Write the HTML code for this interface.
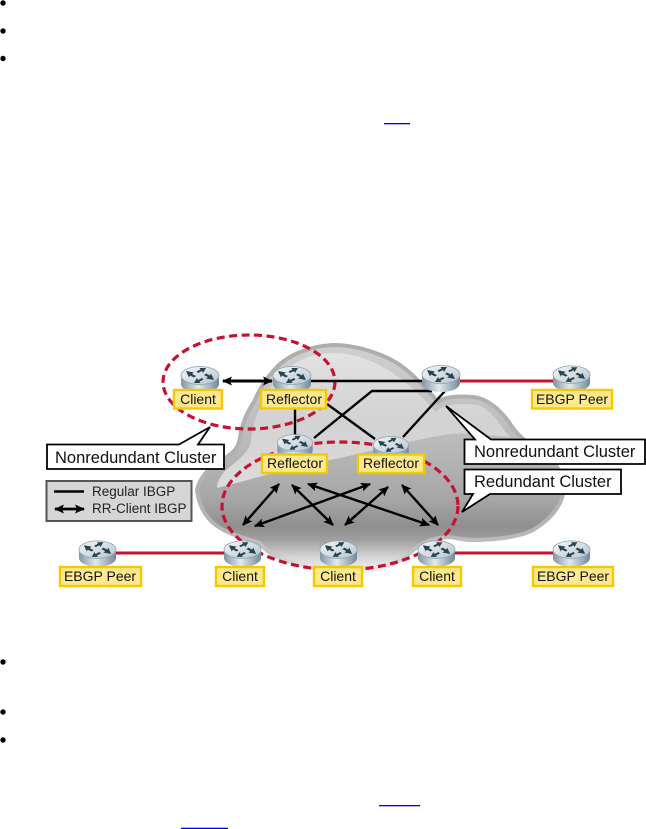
<!DOCTYPE html>
<html><head><meta charset="utf-8"><style>
html,body{margin:0;padding:0;background:#fff}
svg{display:block}
text{font-family:"Liberation Sans",sans-serif;fill:#111}
.n{font-size:14px;text-anchor:middle}
.c{font-size:16.5px}
.l{font-size:13.5px;fill:#222}
</style></head><body>
<svg width="646" height="829" viewBox="0 0 646 829" xmlns="http://www.w3.org/2000/svg">
<defs>
<linearGradient id="cl" x1="0" y1="345" x2="0" y2="572" gradientUnits="userSpaceOnUse">
<stop offset="0" stop-color="#d0d0d0"/><stop offset=".42" stop-color="#bababa"/><stop offset=".68" stop-color="#a6a6a6"/><stop offset=".8" stop-color="#8f8f8f"/><stop offset=".86" stop-color="#a0a0a0"/><stop offset=".93" stop-color="#d2d2d2"/><stop offset="1" stop-color="#f4f4f4"/>
</linearGradient>
<linearGradient id="rim" x1="0" y1="345" x2="0" y2="572" gradientUnits="userSpaceOnUse">
<stop offset="0" stop-color="#adadad"/><stop offset=".8" stop-color="#b4b4b4"/><stop offset=".92" stop-color="#c4c4c4"/><stop offset="1" stop-color="#f0f0f0"/>
</linearGradient>
<linearGradient id="hi" x1="0" y1="355" x2="0" y2="488" gradientUnits="userSpaceOnUse">
<stop offset="0" stop-color="#e2e2e2"/><stop offset=".5" stop-color="#d2d2d2"/><stop offset="1" stop-color="#dcdcdc"/>
</linearGradient>
<linearGradient id="cy" x1="0" x2="1" y1="0" y2="0">
<stop offset="0" stop-color="#7f95a5"/><stop offset=".45" stop-color="#e3e9ec"/><stop offset="1" stop-color="#71899a"/>
</linearGradient>
<linearGradient id="tp" x1="0" x2="1" y1="0" y2="1">
<stop offset="0" stop-color="#f5f7f8"/><stop offset="1" stop-color="#b6c4ce"/>
</linearGradient>
<marker id="a" markerWidth="11" markerHeight="9" refX="9" refY="4.5" orient="auto-start-reverse" markerUnits="userSpaceOnUse"><path d="M0 0L10 4.5L0 9L2 4.500Z" fill="#000"/></marker>
<symbol id="r" width="40" height="28" viewBox="0 0 40 28" overflow="visible">
<path d="M1 9V18C1 23 9 27 20 27S39 23 39 18V9Z" fill="url(#cy)"/>
<ellipse cx="20" cy="9.500" rx="19" ry="9" fill="url(#tp)" stroke="#8ea2af" stroke-width=".8"/>
<g fill="#26434f"><path d="M6 5l8 1.500-2 1.500 4 2-2 1.500-4-2-1 2z"/><path d="M34 14l-8-1.500 2-1.500-4-2 2-1.500 4 2 1-2z"/><path d="M26 2l-3 5-1-2-4 2-1.500-1.500 4-2-1-1.500z"/><path d="M14 17l3-5 1 2 4-2 1.500 1.500-4 2 1 1.500z"/></g>
</symbol>
</defs>

<!-- bullets and links -->
<g fill="#000"><circle cx="3" cy="3" r="2.700"/><circle cx="3" cy="31" r="2.700"/><circle cx="3" cy="58.500" r="2.700"/><circle cx="3" cy="662" r="2.700"/><circle cx="3" cy="712" r="2.700"/><circle cx="3" cy="740" r="2.700"/></g>
<g fill="#0000ee"><rect x="384" y="123" width="26" height="1.300"/><rect x="379" y="805" width="41" height="1.300"/><rect x="181" y="827.700" width="47" height="1.300"/></g>

<!-- cloud -->
<path d="M197 490C200 476 210 467 222 460C232 454 239 448 240 437C242 425 247 412 254 402C258 392 266 378 276 368C288 355 310 346 333 345C355 345 378 352 397 363C411 372 424 386 438 402C445 396 460 396 473 397C487 398 500 410 509 422C515 433 525 442 540 451C554 461 564 472 564 488C563 503 553 518 533 530C520 537 495 540 473 540C460 540 455 537 447 537C430 538 420 544 410 553C402 560 390 568 363 572C345 574 325 574 313 568C295 564 270 558 260 543C245 538 225 534 212 522C204 514 199 505 197 490Z" fill="url(#cl)" stroke="url(#rim)" stroke-width="4"/>
<path d="M217 488C217 482 220 476 226 470C238 460 250 452 251 440C252 425 258 410 266 396C276 376 295 358 320 354C345 350 372 358 397 376C412 386 425 400 436 412C442 404 460 403 478 405C492 410 500 425 510 437C495 436 470 432 450 434C410 440 370 452 330 460C295 466 250 480 217 488Z" fill="url(#hi)"/>

<!-- ellipses -->
<g fill="none" stroke="#c4122f" stroke-width="3.200" stroke-dasharray="8 4.500">
<ellipse cx="249" cy="382" rx="86" ry="47"/>
<ellipse cx="340" cy="506" rx="118" ry="64"/>
</g>

<!-- links -->
<g fill="none" stroke="#000" stroke-width="2.400">
<path d="M295 381H441"/><path d="M295 409V453"/><path d="M327 404L375 439"/><path d="M314 438L372 391H432"/><path d="M445 391L403 437"/>
</g>
<g stroke="#c4122f" stroke-width="3"><path d="M441 381H560"/><path d="M100 553H240"/><path d="M440 553H565"/></g>
<g stroke="#000" stroke-width="2.400" marker-start="url(#a)" marker-end="url(#a)">
<line x1="223" y1="381" x2="272" y2="381" stroke-width="3"/>
<line x1="279" y1="484" x2="243" y2="525"/>
<line x1="292" y1="485" x2="333" y2="525"/>
<line x1="308" y1="484" x2="429" y2="525"/>
<line x1="255" y1="526" x2="370" y2="484"/>
<line x1="388" y1="487" x2="345" y2="525"/>
<line x1="402" y1="485" x2="438" y2="525"/>
</g>

<!-- routers -->
<use href="#r" x="180" y="366" width="40" height="28"/>
<use href="#r" x="272" y="366" width="40" height="28"/>
<use href="#r" x="276" y="434" width="38" height="26"/>
<use href="#r" x="372" y="436" width="38" height="26"/>
<use href="#r" x="421" y="365" width="40" height="28"/>
<use href="#r" x="552" y="365" width="39" height="28"/>
<use href="#r" x="78" y="540" width="39" height="28"/>
<use href="#r" x="223" y="540" width="39" height="28"/>
<use href="#r" x="319" y="540" width="39" height="28"/>
<use href="#r" x="417" y="540" width="39" height="28"/>
<use href="#r" x="552" y="540" width="39" height="28"/>

<!-- node labels -->
<g fill="#ffe98f" stroke="#f5c800" stroke-width="2.400">
<rect x="174" y="390" width="48" height="18.500"/>
<rect x="261" y="390" width="65" height="18.500"/>
<rect x="262" y="454.500" width="65" height="18.500"/>
<rect x="358" y="454.500" width="66" height="18.500"/>
<rect x="532" y="390" width="80" height="18.500"/>
<rect x="60" y="567" width="81" height="19"/>
<rect x="216" y="567" width="48" height="19"/>
<rect x="314" y="567" width="48" height="19"/>
<rect x="413" y="567" width="48" height="19"/>
<rect x="533" y="567" width="80" height="19"/>
</g>
<text class="n" x="198" y="404">Client</text>
<text class="n" x="294" y="404">Reflector</text>
<text class="n" x="295" y="468">Reflector</text>
<text class="n" x="391" y="468">Reflector</text>
<text class="n" x="572" y="404">EBGP Peer</text>
<text class="n" x="100" y="581">EBGP Peer</text>
<text class="n" x="240" y="581">Client</text>
<text class="n" x="338" y="581">Client</text>
<text class="n" x="437" y="581">Client</text>
<text class="n" x="573" y="581">EBGP Peer</text>

<!-- callouts -->
<g fill="#fff" stroke="#000" stroke-width="1.800" stroke-linejoin="miter">
<path d="M47 444.500H179L210 427L198 444.500H224V469H47Z"/>
<path d="M464.500 439.500H475L446 406L491 439.500H645V464H464.500Z"/>
<path d="M464.500 469.500H621V494H490L462 512L473 494H464.500Z"/>
</g>
<text class="c" x="55" y="463">Nonredundant Cluster</text>
<text class="c" x="474" y="457">Nonredundant Cluster</text>
<text class="c" x="474" y="487">Redundant Cluster</text>

<!-- legend -->
<rect x="46.500" y="481" width="145" height="40" fill="#d6d6d6" stroke="#555" stroke-width="2"/>
<path d="M54 491.500H84" stroke="#000" stroke-width="2.400"/>
<line x1="55" y1="509" x2="84" y2="509" stroke="#000" stroke-width="2.800" marker-start="url(#a)" marker-end="url(#a)"/>
<text class="l" x="92" y="496">Regular IBGP</text>
<text class="l" x="92" y="513">RR-Client IBGP</text>
</svg>
</body></html>
